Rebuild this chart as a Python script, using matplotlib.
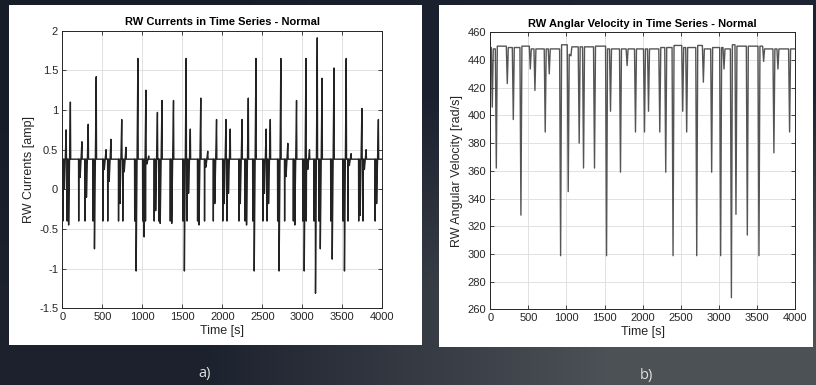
import numpy as np
import matplotlib
matplotlib.use("Agg")
import matplotlib.pyplot as plt
from matplotlib.patches import Rectangle

plt.rcParams['font.family'] = ['Liberation Sans', 'DejaVu Sans']
plt.rcParams['axes.unicode_minus'] = False

# ---------------- data ----------------
event_t = [26, 79, 223, 302, 402, 525, 586, 721, 774, 923, 1023, 1058, 1167, 1224,
           1368, 1526, 1578, 1709, 1796, 1906, 2024, 2077, 2225, 2303, 2399, 2526,
           2578, 2710, 2797, 2906, 3024, 3068, 3165, 3225, 3374, 3527, 3588, 3723,
           3776, 3929]
vel_min = [406, 362, 423, 397, 328, 433.5, 418, 388, 430, 298.7, 345, 443, 380, 362,
           362, 298.7, 403, 359, 436, 388, 388, 403, 388, 359, 298.7, 403,
           388, 298.7, 424, 359, 298.7, 433.5, 268.4, 328.6, 313.6, 298.7, 439, 373,
           433.5, 388]
vel_level = [448, 450, 449, 449, 450, 448, 448, 448, 448, 451, 444, 449.5, 449.5, 449.5,
             450, 448, 448, 448, 448, 448, 448, 448, 449, 449, 450.5, 449,
             449, 450.5, 448, 449, 449, 448, 451, 450, 450, 450, 448, 448,
             448, 448]
vel_start = 449
cur_low = [0.0, -0.45, 0.15, -0.1, -0.75, 0.25, 0.1, -0.18, 0.22, -1.03, -0.6, 0.32, -0.27, -0.43,
           -0.43, -1.03, -0.05, -0.45, 0.28, -0.18, -0.18, -0.05, -0.18, -0.45, -1.03, -0.05,
           -0.18, -1.03, 0.16, -0.45, -1.03, 0.25, -1.31, -0.75, -0.88, -1.03, 0.3, -0.33,
           0.25, -0.18]
cur_peak = [0.75, 1.1, 0.6, 0.82, 1.42, 0.5, 0.63, 0.88, 0.53, 1.65, 1.25, 0.42, 0.97, 1.12,
            1.12, 1.65, 0.76, 1.15, 0.48, 0.88, 0.88, 0.76, 0.88, 1.15, 1.65, 0.76,
            0.88, 1.65, 0.58, 1.12, 1.65, 0.5, 1.91, 1.4, 1.53, 1.65, 0.45, 1.02,
            0.5, 0.88]
cur_base = 0.38
cur_kick = -0.4
t_end = 4000

cur_yticks = [-1.5, -1, -0.5, 0, 0.5, 1, 1.5, 2]
cur_yticklabels = ['-1.5', '-1', '-0.5', '0', '0.5', '1', '1.5', '2']
vel_yticks = [260, 280, 300, 320, 340, 360, 380, 400, 420, 440, 460]
time_ticks = [0, 500, 1000, 1500, 2000, 2500, 3000, 3500, 4000]

# ---------------- build series ----------------
ct, cv = [0], [cur_base]
for t, lo, pk in zip(event_t, cur_low, cur_peak):
    ct += [t - 20, t - 18, t - 15, t - 3, t, t + 22, t + 26]
    cv += [cur_base, cur_kick, cur_base, cur_base, lo, pk, cur_base]
ct.append(t_end); cv.append(cur_base)
ct = np.clip(ct, 0, t_end)

vt, vv = [0], [vel_start]
prev = vel_start
for t, vm, lv in zip(event_t, vel_min, vel_level):
    vt += [t - 13, t, t + 13]
    vv += [prev, vm, lv]
    prev = lv
vt.append(t_end); vv.append(prev)
vt = np.clip(vt, 0, t_end)

# ---------------- figure ----------------
W, H = 816, 385
fig = plt.figure(figsize=(W / 100, H / 100), dpi=100)

# background
bg = fig.add_axes([0, 0, 1, 1], zorder=-10)
cols = np.array([[[0.09, 0.11, 0.16], [0.12, 0.14, 0.20]],
                 [[0.11, 0.13, 0.18], [0.30, 0.32, 0.34]]])
bg.imshow(cols, extent=[0, 1, 0, 1], aspect='auto', interpolation='bilinear', origin='upper')
bg.set_axis_off()

def px_rect(x0, y0, x1, y1):
    return Rectangle((x0 / W, 1 - y1 / H), (x1 - x0) / W, (y1 - y0) / H,
                     transform=fig.transFigure, facecolor='white', edgecolor='none', zorder=-5)

fig.patches.append(px_rect(9, 5, 422, 345))
fig.patches.append(px_rect(439, 5, 813, 347))

def style(ax):
    ax.grid(True, color='#dcdcdc', linewidth=0.6)
    ax.set_axisbelow(True)
    ax.tick_params(direction='in', top=True, right=True, length=3, width=0.6,
                   labelsize=8, colors='#262626', pad=3)
    for s in ax.spines.values():
        s.set_color('#262626'); s.set_linewidth(0.7)
    ax.set_xlim(0, t_end)
    ax.set_xticks(time_ticks)
    ax.set_xlabel('Time [s]', fontsize=9, color='#262626', labelpad=2)

ax1 = fig.add_axes([62.3 / W, 1 - 308.3 / H, 320 / W, 277.6 / H])
ax1.plot(ct, cv, color='#222222', linewidth=1.0)
style(ax1)
ax1.set_ylim(-1.5, 2)
ax1.set_yticks(cur_yticks)
ax1.set_yticklabels(cur_yticklabels)
ax1.set_ylabel('RW Currents [amp]', fontsize=9, color='#262626', labelpad=3)
ax1.set_title('RW Currents in Time Series - Normal', fontsize=8, fontweight='bold', pad=4)

ax2 = fig.add_axes([490.3 / W, 1 - 309.3 / H, 304.7 / W, 277 / H])
ax2.plot(vt, vv, color='#555555', linewidth=1.0)
style(ax2)
ax2.set_ylim(260, 460)
ax2.set_yticks(vel_yticks)
ax2.set_ylabel('RW Angular Velocity [rad/s]', fontsize=9, color='#262626', labelpad=3)
ax2.set_title('RW Anglar Velocity in Time Series - Normal', fontsize=8, fontweight='bold', pad=4)

fig.text(205 / W, 1 - 373 / H, 'a)', color='#e0e0e0', fontsize=10.5, ha='center', va='center',
         family=['Open Sans', 'DejaVu Sans'])
fig.text(646 / W, 1 - 375 / H, 'b)', color='#e0e0e0', fontsize=10.5, ha='center', va='center',
         family=['Open Sans', 'DejaVu Sans'])

fig.savefig('out.png', dpi=100)
